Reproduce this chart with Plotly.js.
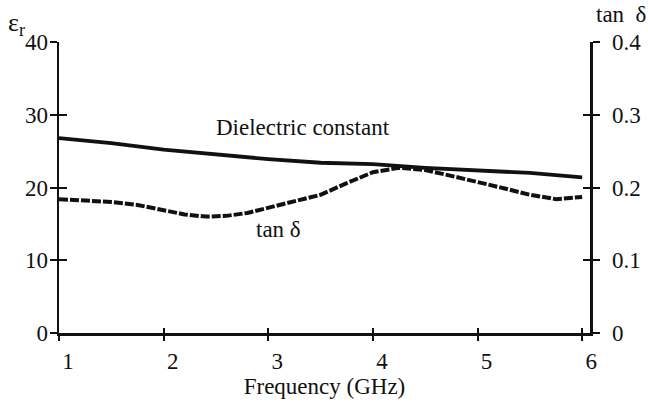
<!DOCTYPE html>
<html>
<head>
<meta charset="utf-8">
<script src="https://cdn.plot.ly/plotly-3.0.1.min.js"></script>
<style>html,body{margin:0;padding:0;background:#fff;}#chart{width:648px;height:409px;}</style>
</head>
<body>
<div id="chart"></div>
<script>
const freqEps = [1, 1.5, 2, 2.5, 3, 3.5, 4, 4.5, 5, 5.5, 6];
const epsR = [26.8, 26.1, 25.2, 24.5, 23.9, 23.4, 23.2, 22.7, 22.4, 22.0, 21.4];
const freqTan = [1, 1.25, 1.5, 1.75, 2, 2.2, 2.4, 2.6, 2.8, 3, 3.25, 3.5, 3.75, 4, 4.25, 4.5, 4.75, 5, 5.25, 5.5, 5.75, 6];
const tanD = [0.184, 0.182, 0.180, 0.176, 0.169, 0.163, 0.160, 0.161, 0.165, 0.172, 0.180, 0.190, 0.206, 0.221, 0.227, 0.224, 0.216, 0.208, 0.199, 0.190, 0.184, 0.187];
const xTicks = [1, 2, 3, 4, 5, 6];
const epsTicks = [0, 10, 20, 30, 40];
const tanTicks = [0, 0.1, 0.2, 0.3, 0.4];
const tanTickText = ['0', '0.1', '0.2', '0.3', '0.4'];

const font = {family: '"Liberation Serif", "Times New Roman", "DejaVu Serif", serif', size: 23, color: '#111'};
const xr = [1, 6.075];

const traces = [
  {x: freqEps, y: epsR, type: 'scatter', mode: 'lines', xaxis: 'x', yaxis: 'y',
   line: {color: '#111', width: 3.8}, hoverinfo: 'skip'},
  {x: freqTan, y: tanD, type: 'scatter', mode: 'lines', xaxis: 'x', yaxis: 'y2',
   line: {color: '#111', width: 4, dash: '9px,2px'}, hoverinfo: 'skip'}
];

const base = {showgrid: false, zeroline: false, ticks: 'outside', ticklen: 7, tickwidth: 2, tickcolor: '#111', linecolor: '#111', linewidth: 2.5, tickfont: font, fixedrange: true};

const L = 59, R = 58, T = 42, B = 76, W = 648, H = 409;
const plotW = W - L - R, plotH = H - T - B;
const px = v => (v - L) / plotW;
const py = v => (H - B - v) / plotH;

const layout = {
  width: W, height: H,
  margin: {l: L, r: R, t: T, b: B},
  paper_bgcolor: '#fff', plot_bgcolor: '#fff',
  showlegend: false,
  font: font,
  xaxis: Object.assign({}, base, {range: xr, tickvals: xTicks, ticklen: 5, showline: true,
    ticklabelshift: 9, ticklabelstandoff: 1, title: {text: 'Frequency (GHz)', font: font, standoff: 5}}),
  xaxis2: Object.assign({}, base, {range: xr, tickvals: xTicks, ticks: 'inside', ticklen: 5, showticklabels: false, showline: false, overlaying: 'x', anchor: 'y'}),
  yaxis: Object.assign({}, base, {range: [0, 40], tickvals: epsTicks, showline: true, ticklabelstandoff: -3}),
  yaxis3: Object.assign({}, base, {range: [0, 40], tickvals: epsTicks, ticks: 'inside', ticklen: 8, showticklabels: false, showline: false, overlaying: 'y', anchor: 'x'}),
  yaxis2: Object.assign({}, base, {range: [0, 0.4], tickvals: tanTicks, ticktext: tanTickText, side: 'right', overlaying: 'y', anchor: 'x', showline: true, ticklabelstandoff: 8}),
  yaxis4: Object.assign({}, base, {range: [0, 0.4], tickvals: tanTicks, ticks: 'inside', ticklen: 7, side: 'right', showticklabels: false, showline: false, overlaying: 'y', anchor: 'x'}),
  annotations: [
    {x: 3.33, y: 28.2, xref: 'x', yref: 'y', text: 'Dielectric constant', showarrow: false, font: font},
    {x: 3.1, y: 14.2, xref: 'x', yref: 'y', text: 'tan δ', showarrow: false, font: font},
    {x: px(6), y: py(6), xref: 'paper', yref: 'paper', xanchor: 'left', yanchor: 'top', text: 'ε<sub>r</sub>', showarrow: false, font: Object.assign({}, font, {size: 26})},
    {x: px(648), y: py(0), xref: 'paper', yref: 'paper', xanchor: 'right', yanchor: 'top', text: 'tan\u00a0\u00a0δ', showarrow: false, font: font}
  ]
};

traces.push({x: [1], y: [0], xaxis: 'x2', yaxis: 'y3', mode: 'markers', marker: {opacity: 0}, hoverinfo: 'skip'});
traces.push({x: [1], y: [0], xaxis: 'x', yaxis: 'y4', mode: 'markers', marker: {opacity: 0}, hoverinfo: 'skip'});

Plotly.newPlot('chart', traces, layout, {staticPlot: true, displayModeBar: false});
</script>
</body>
</html>
